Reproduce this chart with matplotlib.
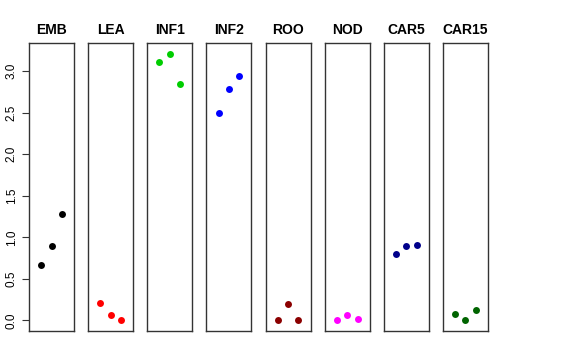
import matplotlib
matplotlib.use("Agg")
import matplotlib.pyplot as plt

plt.rcParams["font.family"] = ["Liberation Sans", "DejaVu Sans"]

groups = ["EMB", "LEA", "INF1", "INF2", "ROO", "NOD", "CAR5", "CAR15"]
colors = ["black", "red", "#00CD00", "blue", "#8B0000", "magenta", "#00008B", "#006400"]
positions = [1, 2, 3]
values = [
    [0.67, 0.90, 1.28],
    [0.21, 0.07, 0.00],
    [3.11, 3.21, 2.85],
    [2.50, 2.78, 2.94],
    [0.00, 0.20, 0.00],
    [0.00, 0.07, 0.02],
    [0.80, 0.89, 0.91],
    [0.08, 0.00, 0.12],
]
yticks = [0.0, 0.5, 1.0, 1.5, 2.0, 2.5, 3.0]

W, H = 576, 360
fig = plt.figure(figsize=(W / 100, H / 100), dpi=100)

left0, step, pw = 29, 59.14, 45
top, bottom = 43, 331
ymax = max(max(v) for v in values)
ymin = min(min(v) for v in values)
pad = (ymax - ymin) * 0.04

for i, (name, col, vals) in enumerate(zip(groups, colors, values)):
    x0 = left0 + i * step
    ax = fig.add_axes([x0 / W, 1 - bottom / H, pw / W, (bottom - top) / H])
    ax.plot(positions, vals, "o", color=col, markersize=5, markeredgewidth=0)
    ax.set_xlim(-0.16, 4.16)
    ax.set_ylim(ymin - pad, ymax + pad)
    ax.set_xticks([])
    for sp in ax.spines.values():
        sp.set_color("#333333")
        sp.set_linewidth(1)
    ax.set_title(name, fontsize=10, fontweight="bold", pad=6.5)
    if i == 0:
        ax.set_yticks(yticks)
        ax.set_yticklabels([f"{t:.1f}" for t in yticks], rotation=90, va="center", fontsize=8.5)
        ax.tick_params(axis="y", length=5, width=0.8, color="#333333", pad=3)
    else:
        ax.set_yticks([])

fig.savefig("out.png", dpi=100)
